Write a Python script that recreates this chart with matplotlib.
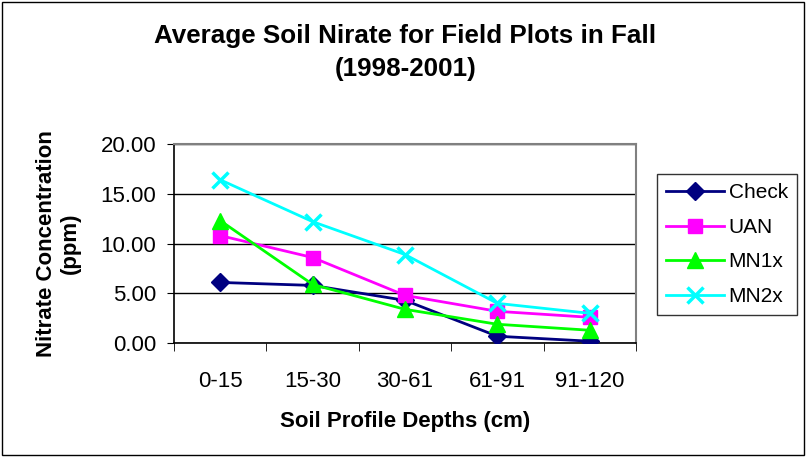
import matplotlib
matplotlib.use("Agg")
import matplotlib.pyplot as plt
from matplotlib.patches import Rectangle
import numpy as np

plt.rcParams['font.family'] = ['Liberation Sans', 'DejaVu Sans']

# datos
depths = ["0-15", "15-30", "30-61", "61-91", "91-120"]
check = [6.1, 5.8, 4.3, 0.7, 0.2]
uan = [10.8, 8.6, 4.8, 3.2, 2.6]
mn1x = [12.3, 5.9, 3.4, 1.9, 1.3]
mn2x = [16.4, 12.2, 8.9, 4.0, 3.0]

fig = plt.figure(figsize=(8.06, 4.57), dpi=100)
ax = fig.add_axes([0.216, 0.249, 0.573, 0.436])

x = np.arange(len(depths))
ax.plot(x, check, color='#000080', marker='D', markersize=9.5, lw=2, label='Check', zorder=3)
ax.plot(x, uan, color='#FF00FF', marker='s', markersize=10, lw=2, label='UAN', zorder=3)
ax.plot(x, mn1x, color='#00FF00', marker='^', markersize=11, lw=2, label='MN1x', zorder=3)
ax.plot(x, mn2x, color='#00FFFF', marker='x', markersize=11, mew=2.5, lw=2, label='MN2x', zorder=3)

ax.set_xlim(-0.5, 4.5)
ax.set_ylim(0, 20)
ax.set_yticks([0, 5, 10, 15, 20])
ax.set_yticklabels(["%.2f" % v for v in [0, 5, 10, 15, 20]], fontsize=16)
ax.set_xticks(x)
ax.set_xticklabels(depths, fontsize=16)
ax.set_xticks(np.arange(-0.5, 5, 1), minor=True)
ax.tick_params(axis='x', which='major', length=0, pad=20)
ax.tick_params(axis='x', which='minor', length=6, direction='out', color='black')
ax.tick_params(axis='y', length=5, direction='out', color='black', pad=8)
ax.yaxis.grid(True, color='black', lw=1)
ax.set_axisbelow(True)

for s in ['top', 'right']:
    ax.spines[s].set_color('#808080')
    ax.spines[s].set_linewidth(1.5)
for s in ['left', 'bottom']:
    ax.spines[s].set_color('black')
    ax.spines[s].set_linewidth(1.2)

ax.set_xlabel("Soil Profile Depths (cm)", fontsize=16, fontweight='bold', labelpad=14)
ax.set_ylabel("Nitrate Concentration\n(ppm)", fontsize=16, fontweight='bold', labelpad=14)

fig.text(0.503, 0.885, "Average Soil Nirate for Field Plots in Fall\n(1998-2001)",
         ha='center', va='center', fontsize=18.7, fontweight='bold', linespacing=1.5)

leg = ax.legend(loc='upper left', bbox_to_anchor=(1.045, 0.85), fontsize=15,
                frameon=True, fancybox=False, edgecolor='black', handlelength=2.8,
                handletextpad=0.2, borderpad=0.45, labelspacing=0.75, borderaxespad=0)
leg.get_frame().set_linewidth(1)

fig.patches.append(Rectangle((0.003, 0.004), 0.994, 0.992, transform=fig.transFigure,
                             fill=False, edgecolor='black', lw=1))

fig.savefig("out.png", dpi=100)
